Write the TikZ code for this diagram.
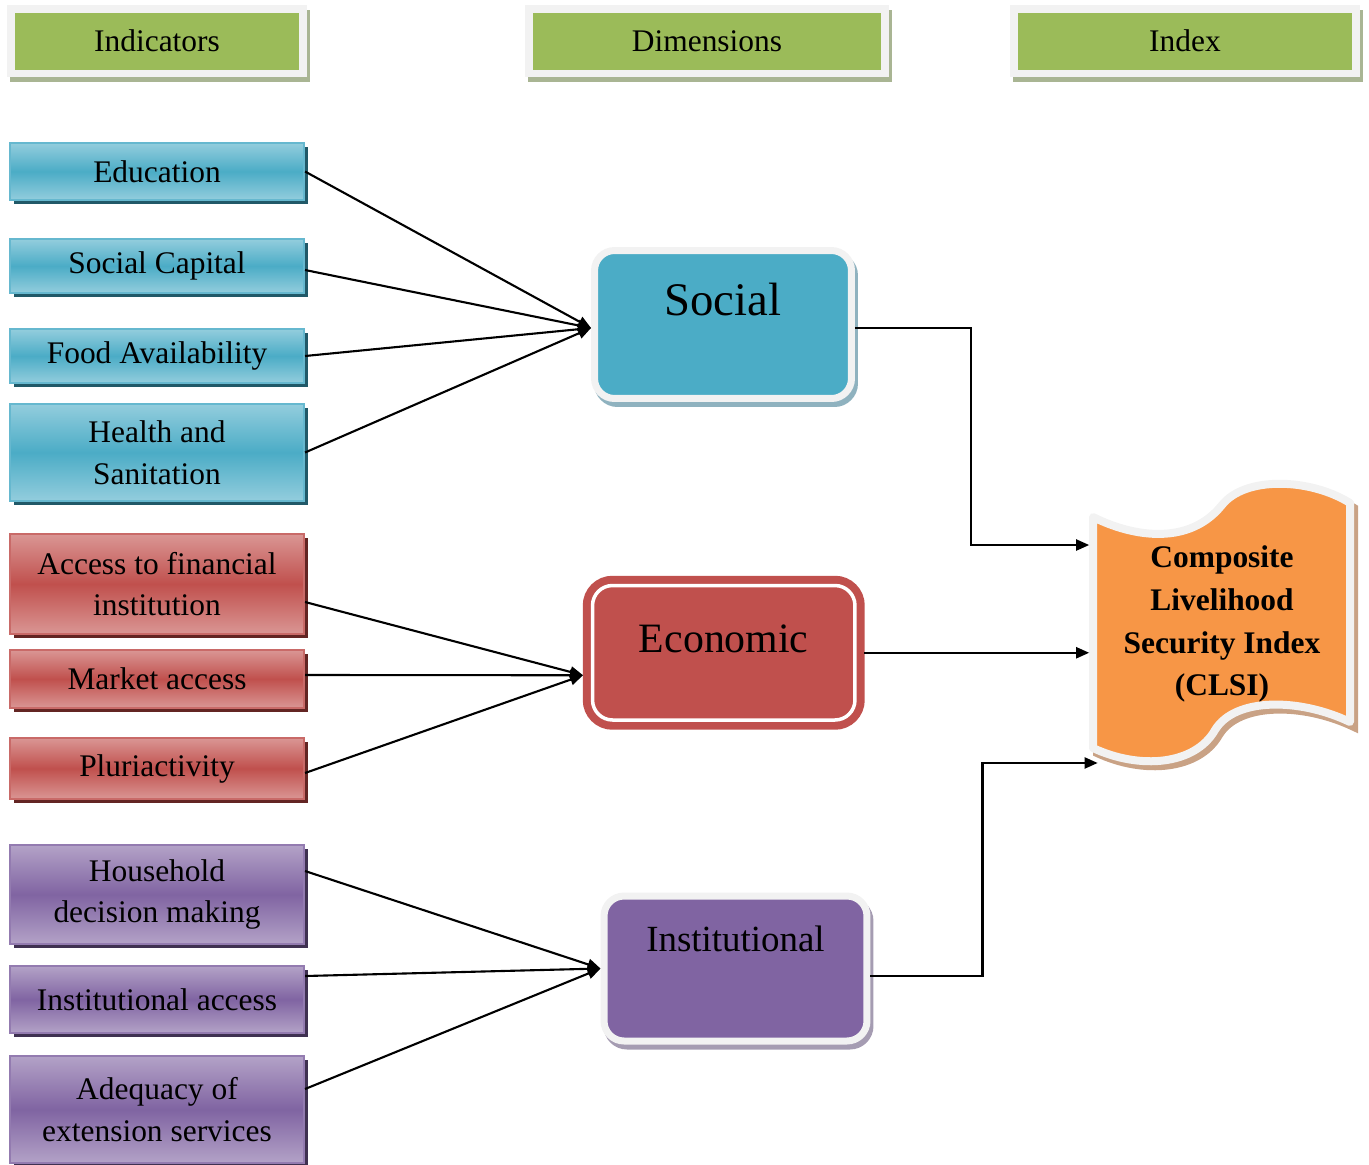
\documentclass[tikz,border=0pt]{standalone}
\usepackage{fontspec}
\setmainfont{Liberation Serif}
\usetikzlibrary{arrows.meta, shadows}

\definecolor{hdrgreen}{HTML}{9BBB59}
\definecolor{framegray}{HTML}{F2F2F2}
\definecolor{hdrshadow}{HTML}{A9B593}
\definecolor{socblue}{HTML}{4BACC6}
\definecolor{soclight}{HTML}{93CDDD}
\definecolor{socdark}{HTML}{215968}
\definecolor{socshadow}{HTML}{8FB2BF}
\definecolor{ecored}{HTML}{C0504D}
\definecolor{ecolight}{HTML}{DA9694}
\definecolor{ecodark}{HTML}{632523}
\definecolor{instpurple}{HTML}{8064A2}
\definecolor{instlight}{HTML}{B3A2C7}
\definecolor{instdark}{HTML}{3F3151}
\definecolor{instshadow}{HTML}{A59CB2}
\definecolor{idxorange}{HTML}{F79646}
\definecolor{idxshadow}{HTML}{C9A285}

\tikzset{
    header/.style={draw=framegray, line width=0.16cm, fill=hdrgreen, minimum height=1.3cm, inner sep=0,
        font=\fontsize{17.9}{23.8}\selectfont,
        drop shadow={shadow xshift=0.06cm, shadow yshift=-0.1cm, fill=hdrshadow, draw=hdrshadow, line width=0.16cm, opacity=1}},
    indbox/.style={minimum width=5.88cm, inner sep=0, align=center, line width=1.2pt,
        font=\fontsize{17.9}{23.8}\selectfont},
    socind/.style={indbox, draw=socblue!85!white, top color=soclight, bottom color=soclight, middle color=socblue,
        drop shadow={shadow xshift=0.08cm, shadow yshift=-0.08cm, fill=socdark, opacity=1}},
    ecoind/.style={indbox, draw=ecored!85!white, top color=ecolight, bottom color=ecolight, middle color=ecored,
        drop shadow={shadow xshift=0.08cm, shadow yshift=-0.08cm, fill=ecodark, opacity=1}},
    instind/.style={indbox, draw=instpurple!85!white, top color=instlight, bottom color=instlight, middle color=instpurple,
        drop shadow={shadow xshift=0.08cm, shadow yshift=-0.08cm, fill=instdark, opacity=1}},
    dimbox/.style={draw=framegray, line width=0.14cm, rounded corners=0.4cm, inner sep=0},
    conn/.style={draw, line width=1.2pt, -{Triangle[length=0.26cm, width=0.22cm]}}
}

\begin{document}
\begin{tikzpicture}[x=0.02cm, y=-0.02cm]
    \useasboundingbox (0,0) rectangle (1369,1164);

    % column headers
    \node[header, minimum width=5.84cm] (hind) at (157,41) {Indicators};
    \node[header, minimum width=7.14cm] (hdim) at (707,41) {Dimensions};
    \node[header, minimum width=6.84cm] (hidx) at (1185,41) {Index};

    % indicators
    \node[socind, minimum height=1.14cm] (edu) at (157,171.5) {Education};
    \node[socind, minimum height=1.08cm] (soccap) at (157,266) {Social Capital};
    \node[socind, minimum height=1.08cm] (food) at (157,356) {Food Availability};
    \node[socind, minimum height=1.94cm] (health) at (157,452.5) {Health and\\Sanitation};

    \node[ecoind, minimum height=2cm] (fin) at (157,584) {Access to financial\\institution};
    \node[ecoind, minimum height=1.16cm] (market) at (157,679) {Market access};
    \node[ecoind, minimum height=1.22cm] (pluri) at (157,768.5) {Pluriactivity};

    \node[instind, minimum height=1.98cm] (household) at (157,894.5) {Household\\decision making};
    \node[instind, minimum height=1.34cm] (instacc) at (157,999.5) {Institutional access};
    \node[instind, minimum height=2.14cm] (extension) at (157,1109.5) {Adequacy of\\extension services};

    % dimensions
    \node[dimbox, fill=socblue, minimum width=5.14cm, minimum height=2.96cm,
        font=\fontsize{26.6}{30}\selectfont, text height=1cm, text depth=1.38cm,
        drop shadow={shadow xshift=0.06cm, shadow yshift=-0.1cm, fill=socshadow, draw=socshadow, line width=0.14cm, opacity=1}]
        (social) at (723,324.5) {Social};
    \node[draw=ecored, fill=ecored, line width=0.16cm, double=white, double distance=0.07cm,
        rounded corners=0.4cm, inner sep=0, outer sep=0.19cm, minimum width=5.25cm, minimum height=2.69cm,
        font=\fontsize{23.8}{28}\selectfont, text height=1cm, text depth=1cm]
        (economic) at (723.75,652.75) {Economic};
    \node[dimbox, fill=instpurple, minimum width=5.26cm, minimum height=2.9cm,
        font=\fontsize{21}{25}\selectfont, text height=0.8cm, text depth=1.5cm,
        drop shadow={shadow xshift=0.06cm, shadow yshift=-0.1cm, fill=instshadow, draw=instshadow, line width=0.14cm, opacity=1}]
        (institutional) at (735.5,968.5) {Institutional};

    % index banner
    \filldraw[fill=idxorange, draw=framegray, line width=0.16cm, line join=round,
        drop shadow={shadow xshift=0.08cm, shadow yshift=-0.1cm, fill=idxshadow, draw=idxshadow, line width=0.16cm, opacity=1}]
        (1093,517) .. controls (1135,538) and (1190,545) .. (1222,505)
        .. controls (1245,476) and (1310,478) .. (1350,503)
        -- (1350,722)
        .. controls (1300,698) and (1235,697) .. (1215,730)
        .. controls (1195,765) and (1140,770) .. (1093,748) -- cycle;
    \node[align=center, minimum width=5.3cm, inner sep=0,
        font=\fontsize{17.9}{24.4}\selectfont\bfseries] (clsi) at (1222,624)
        {Composite\\Livelihood\\Security Index\\(CLSI)};

    % indicators to dimensions
    \draw[conn] (edu.east) -- ([yshift=-0.07cm]social.west);
    \draw[conn] ([yshift=-0.08cm]soccap.east) -- ([yshift=-0.07cm]social.west);
    \draw[conn] (food.east) -- ([yshift=-0.07cm]social.west);
    \draw[conn] (health.east) -- ([yshift=-0.07cm]social.west);

    \draw[conn] ([yshift=-0.36cm]fin.east) -- ([yshift=-0.45cm]economic.west);
    \draw[conn] ([yshift=0.08cm]market.east) -- ([yshift=-0.45cm]economic.west);
    \draw[conn] ([yshift=-0.09cm]pluri.east) -- ([yshift=-0.45cm]economic.west);

    \draw[conn] ([yshift=0.47cm]household.east) -- (institutional.west);
    \draw[conn] ([yshift=0.47cm]instacc.east) -- (institutional.west);
    \draw[conn] ([yshift=0.41cm]extension.east) -- (institutional.west);

    % dimensions to index
    \draw[conn] ([yshift=-0.07cm]social.east) -- ++(116,0) |- ([yshift=1.58cm]clsi.west);
    \draw[conn] (economic.east) -- (economic.east -| clsi.west);
    \draw[conn] ([yshift=-0.15cm]institutional.east) -- ++(112,0) |- ([xshift=0.17cm, yshift=-2.78cm]clsi.west);
\end{tikzpicture}
\end{document}
